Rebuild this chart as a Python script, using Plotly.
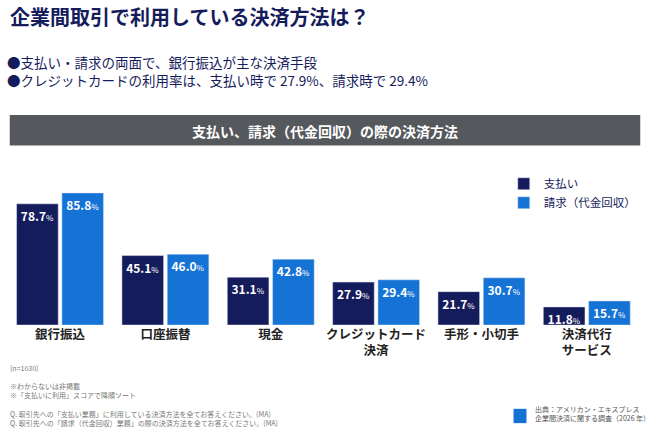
#!/usr/bin/env python3
import plotly.graph_objects as go

methods = ["銀行振込", "口座振替", "現金", "クレジットカード<br>決済", "手形・小切手", "決済代行<br>サービス"]
data = {
    "支払い": [78.7, 45.1, 31.1, 27.9, 21.7, 11.8],
    "請求（代金回収）": [85.8, 46.0, 42.8, 29.4, 30.7, 15.7],
}
colors = {"支払い": "#151c5c", "請求（代金回収）": "#1673d6"}

fig = go.Figure()

# one trace per side, values drawn inside the bar tops
for name, values in data.items():
    labels = [f"<b>{v:.1f}</b><span style='font-size:8px'>%</span>" for v in values]
    fig.add_trace(go.Bar(x=methods, y=values, name=name, marker_color=colors[name],
                         text=labels, texttemplate="%{text}", textposition="inside",
                         insidetextanchor="end", textangle=0, cliponaxis=False,
                         textfont=dict(color="white", size=12)))

# header texts and the grey band
fig.add_annotation(text="<b>企業間取引で利用している決済方法は？</b>", x=0.012, y=1.0, xref="paper", yref="paper",
                   xanchor="left", yanchor="top", showarrow=False, font=dict(size=20, color="#151c5c"))
fig.add_annotation(text="●支払い・請求の両面で、銀行振込が主な決済手段<br>●クレジットカードの利用率は、支払い時で 27.9%、請求時で 29.4%",
                   x=0.008, y=0.885, xref="paper", yref="paper", xanchor="left", yanchor="top", align="left",
                   showarrow=False, font=dict(size=13.5, color="#151c5c"))
fig.add_shape(type="rect", x0=0.015, x1=0.985, y0=0.665, y1=0.735, xref="paper", yref="paper",
              fillcolor="#55585c", line_width=0)
fig.add_annotation(text="<b>支払い、請求（代金回収）の際の決済方法</b>", x=0.5, y=0.725, xref="paper", yref="paper",
                   showarrow=False, font=dict(size=14, color="white"))

# footnotes
fig.add_annotation(text="(n=1030)<br><br>※わからないは非掲載<br>※「支払いに利用」スコアで降順ソート<br><br>"
                        "Q. 取引先への「支払い業務」に利用している決済方法を全てお答えください。(MA)<br>"
                        "Q. 取引先への「請求（代金回収）業務」の際の決済方法を全てお答えください。(MA)",
                   x=0.012, y=0.01, xref="paper", yref="paper", xanchor="left", yanchor="bottom", align="left",
                   showarrow=False, font=dict(size=7, color="#777777"))
fig.add_annotation(text="出典：アメリカン・エキスプレス<br>企業間決済に関する調査（2026 年）",
                   x=0.82, y=0.02, xref="paper", yref="paper", xanchor="left", yanchor="bottom", align="left",
                   showarrow=False, font=dict(size=7, color="#555555"))
fig.add_shape(type="rect", x0=0.79, x1=0.81, y0=0.025, y1=0.058, xref="paper", yref="paper",
              fillcolor="#1673d6", line_width=0)

fig.update_layout(
    width=650, height=434, margin=dict(l=0, r=0, t=0, b=0),
    paper_bgcolor="white", plot_bgcolor="white",
    font=dict(family="Noto Sans CJK JP"),
    barmode="group", bargap=0.14, bargroupgap=0.08,
    uniformtext=dict(minsize=12, mode="show"),
    legend=dict(x=0.775, y=0.61, xanchor="left", yanchor="top", font=dict(size=11.5, color="#151c5c"),
                itemwidth=30, tracegroupgap=4),
    xaxis=dict(range=[-0.57, 5.6], domain=[0, 1], tickfont=dict(size=12.5, color="#222222"),
               showline=False, ticks=""),
    yaxis=dict(range=[0, 100], domain=[0.251, 0.606], visible=False),
)
fig.update_xaxes(tickprefix="<b>", ticksuffix="</b>")

fig.write_html("out.html", config={"displayModeBar": False},
               post_script="document.body.style.margin='0';")
